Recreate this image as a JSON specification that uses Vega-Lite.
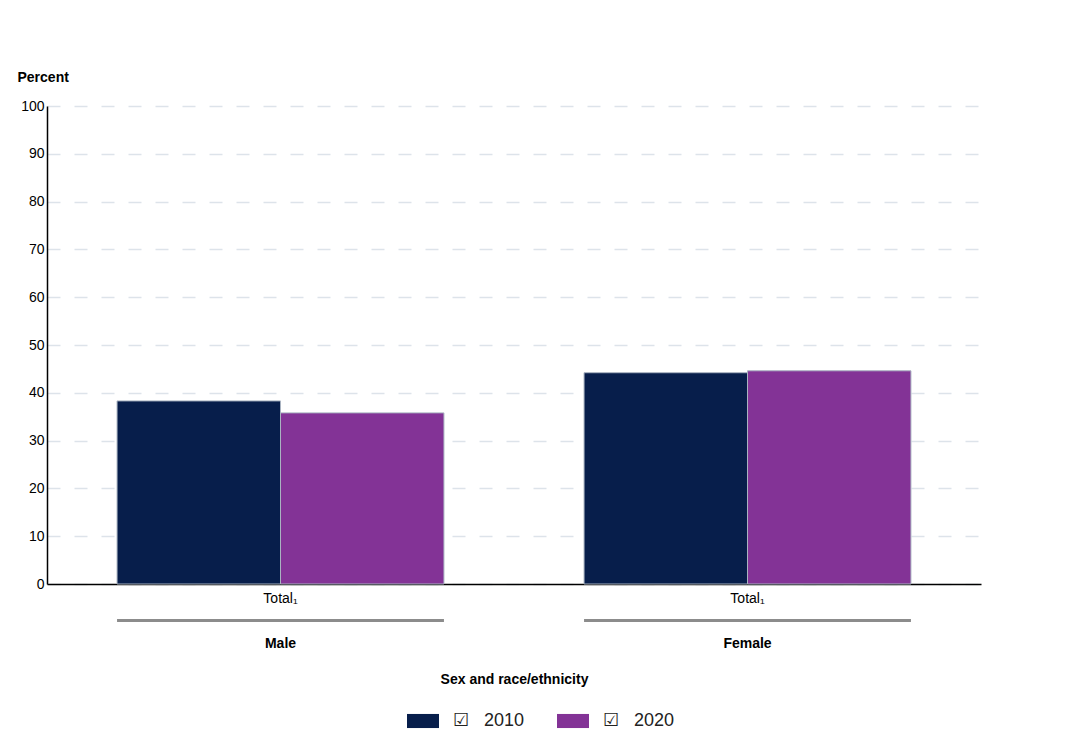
{
  "$schema": "https://vega.github.io/schema/vega-lite/v6.json",
  "padding": {"left": 17, "top": 70, "right": 10, "bottom": 5},
  "background": "white",
  "config": {
    "font": "Liberation Sans",
    "view": {"stroke": null},
    "concat": {"spacing": 14}
  },
  "datasets": {
    "bars": [
      {"sex": "Male", "group": "Total", "year": "2010", "percent": 38.3},
      {"sex": "Male", "group": "Total", "year": "2020", "percent": 35.8},
      {"sex": "Female", "group": "Total", "year": "2010", "percent": 44.2},
      {"sex": "Female", "group": "Total", "year": "2020", "percent": 44.6}
    ],
    "groups": [
      {"sex": "Male"},
      {"sex": "Female"}
    ]
  },
  "vconcat": [
    {
      "width": 934,
      "height": 478,
      "data": {"name": "bars"},
      "mark": {"type": "bar", "stroke": "#a9b3c1", "strokeWidth": 1},
      "encoding": {
        "x": {
          "field": "sex",
          "type": "nominal",
          "sort": ["Male", "Female"],
          "scale": {"paddingInner": 0.3, "paddingOuter": 0.15},
          "axis": {
            "title": null,
            "labelExpr": "'Total₁'",
            "labelAngle": 0,
            "ticks": false,
            "domainColor": "#000000",
            "domainWidth": 1.5,
            "labelColor": "#000000",
            "labelFontSize": 14,
            "labelPadding": 7
          }
        },
        "xOffset": {
          "field": "year",
          "type": "nominal",
          "scale": {"paddingInner": 0, "paddingOuter": 0}
        },
        "y": {
          "field": "percent",
          "type": "quantitative",
          "scale": {"domain": [0, 100]},
          "axis": {
            "values": [0, 10, 20, 30, 40, 50, 60, 70, 80, 90, 100],
            "title": "Percent",
            "titleAngle": 0,
            "titleAlign": "left",
            "titleBaseline": "bottom",
            "titleX": -30,
            "titleY": -22,
            "titleFontSize": 14,
            "titleFontWeight": "bold",
            "titleColor": "#000000",
            "labelFontSize": 14,
            "labelColor": "#000000",
            "labelPadding": 3,
            "ticks": false,
            "domainColor": "#000000",
            "domainWidth": 1.5,
            "grid": true,
            "gridColor": "#dde3ea",
            "gridDash": [13, 14],
            "gridWidth": 1.5
          }
        },
        "color": {
          "field": "year",
          "type": "nominal",
          "scale": {"domain": ["2010", "2020"], "range": ["#071e4b", "#833396"]},
          "legend": {
            "title": null,
            "orient": "none",
            "direction": "horizontal",
            "legendX": 360,
            "legendY": 599,
            "symbolType": "M-1,-0.44H1V0.44H-1Z",
            "symbolSize": 1024,
            "symbolStrokeWidth": 0,
            "labelFontSize": 18,
            "labelColor": "#222222",
            "labelExpr": "'☑\u00a0\u00a0\u00a0' + datum.label",
            "labelOffset": 14,
            "columnPadding": 32,
            "symbolOpacity": 1
          }
        }
      }
    },
    {
      "width": 934,
      "height": 3,
      "data": {"name": "groups"},
      "mark": {"type": "bar", "color": "#8c8c8c"},
      "encoding": {
        "x": {
          "field": "sex",
          "type": "nominal",
          "sort": ["Male", "Female"],
          "scale": {"paddingInner": 0.3, "paddingOuter": 0.15},
          "axis": {
            "title": "Sex and race/ethnicity",
            "titleFontSize": 14,
            "titleFontWeight": "bold",
            "titleColor": "#000000",
            "titlePadding": 22,
            "labelAngle": 0,
            "labelFontSize": 14,
            "labelFontWeight": "bold",
            "labelColor": "#000000",
            "labelPadding": 14,
            "ticks": false,
            "domain": false
          }
        }
      }
    }
  ]
}
